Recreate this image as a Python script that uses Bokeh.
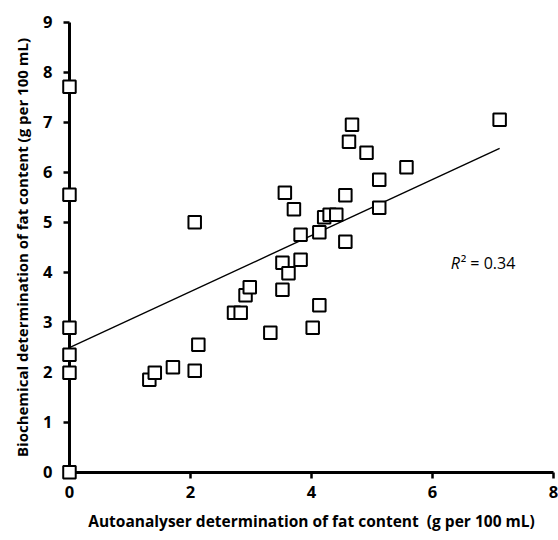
from bokeh.plotting import figure
from bokeh.models import Label, Range1d, FixedTicker
from bokeh.embed import file_html
from bokeh.resources import INLINE

# Data
autoanalyser = [0, 0, 0, 0, 0, 0,
                1.32, 1.41, 1.71, 2.07, 2.13, 2.07,
                2.72, 2.83, 2.91, 2.98,
                3.32, 3.52, 3.52, 3.62, 3.56, 3.71, 3.82, 3.82,
                4.02, 4.13, 4.13, 4.21, 4.30, 4.41, 4.56, 4.56,
                4.62, 4.67, 4.91, 5.12, 5.12, 5.57, 7.11]
biochemical = [7.71, 5.55, 2.89, 2.35, 1.99, 0.0,
               1.85, 1.99, 2.10, 2.03, 2.55, 5.00,
               3.19, 3.19, 3.54, 3.70,
               2.79, 3.65, 4.19, 3.98, 5.59, 5.26, 4.75, 4.25,
               2.89, 3.34, 4.80, 5.10, 5.15, 5.15, 5.54, 4.61,
               6.61, 6.95, 6.39, 5.85, 5.29, 6.10, 7.05]
fit_intercept = 2.49
fit_slope = 0.561
r_label = "R"
r_squared_text = "\u00b2 = 0.34"
x_ticks = [0, 2, 4, 6, 8]
y_ticks = [0, 1, 2, 3, 4, 5, 6, 7, 8, 9]

FONT = "Open Sans"

# frame covers the whole canvas; axes are drawn at x=0 / y=0 inside it
p = figure(width=558, height=540, output_backend="svg", toolbar_location=None,
           x_range=Range1d(-1.14, 8.083), y_range=Range1d(-1.366, 9.434),
           min_border_left=0, min_border_right=0, min_border_top=0, min_border_bottom=0)
p.outline_line_color = None
p.grid.visible = False

# regression line
x_fit = [0, max(autoanalyser)]
y_fit = [fit_intercept + fit_slope * v for v in x_fit]
p.line(x_fit, y_fit, line_color="black", line_width=1.4)

sc = p.scatter(autoanalyser, biochemical, marker="square", size=12.5,
               fill_color="white", line_color="black", line_width=2)
sc.level = "overlay"

for ax in (p.xaxis[0], p.yaxis[0]):
    ax.fixed_location = 0
    ax.axis_line_width = 3
    ax.axis_line_color = "black"
    ax.major_tick_line_width = 2.5
    ax.major_tick_line_color = "black"
    ax.major_tick_in = 0
    ax.major_tick_out = 6
    ax.minor_tick_line_color = None
    ax.major_label_text_font = FONT
    ax.major_label_text_font_style = "bold"
    ax.major_label_text_font_size = "16.5px"
    ax.major_label_text_color = "black"
    ax.axis_label_text_font = FONT
    ax.axis_label_text_font_style = "bold"
    ax.axis_label_text_color = "black"

p.xaxis.bounds = (0, 8)
p.yaxis.bounds = (0, 9)
p.xaxis.ticker = FixedTicker(ticks=x_ticks)
p.yaxis.ticker = FixedTicker(ticks=y_ticks)
p.xaxis.axis_label = "Autoanalyser determination of fat content \u00a0(g per 100 mL)"
p.yaxis.axis_label = "Biochemical determination of fat content (g per 100 mL)"
p.xaxis.axis_label_text_font_size = "15.5px"
p.yaxis.axis_label_text_font_size = "15px"
p.xaxis.major_label_standoff = 8
p.yaxis.major_label_standoff = 11
p.xaxis.axis_label_standoff = 8
p.yaxis.axis_label_standoff = 8

p.add_layout(Label(x=6.30, y=4.19, text=r_label, text_font=FONT, text_font_style="italic",
                   text_font_size="16px", text_baseline="middle", text_color="black"))
p.add_layout(Label(x=6.30, y=4.19, x_offset=10, text=r_squared_text, text_font=FONT,
                   text_font_size="16px", text_baseline="middle", text_color="black"))

open("out.html", "w").write(file_html(p, INLINE))
